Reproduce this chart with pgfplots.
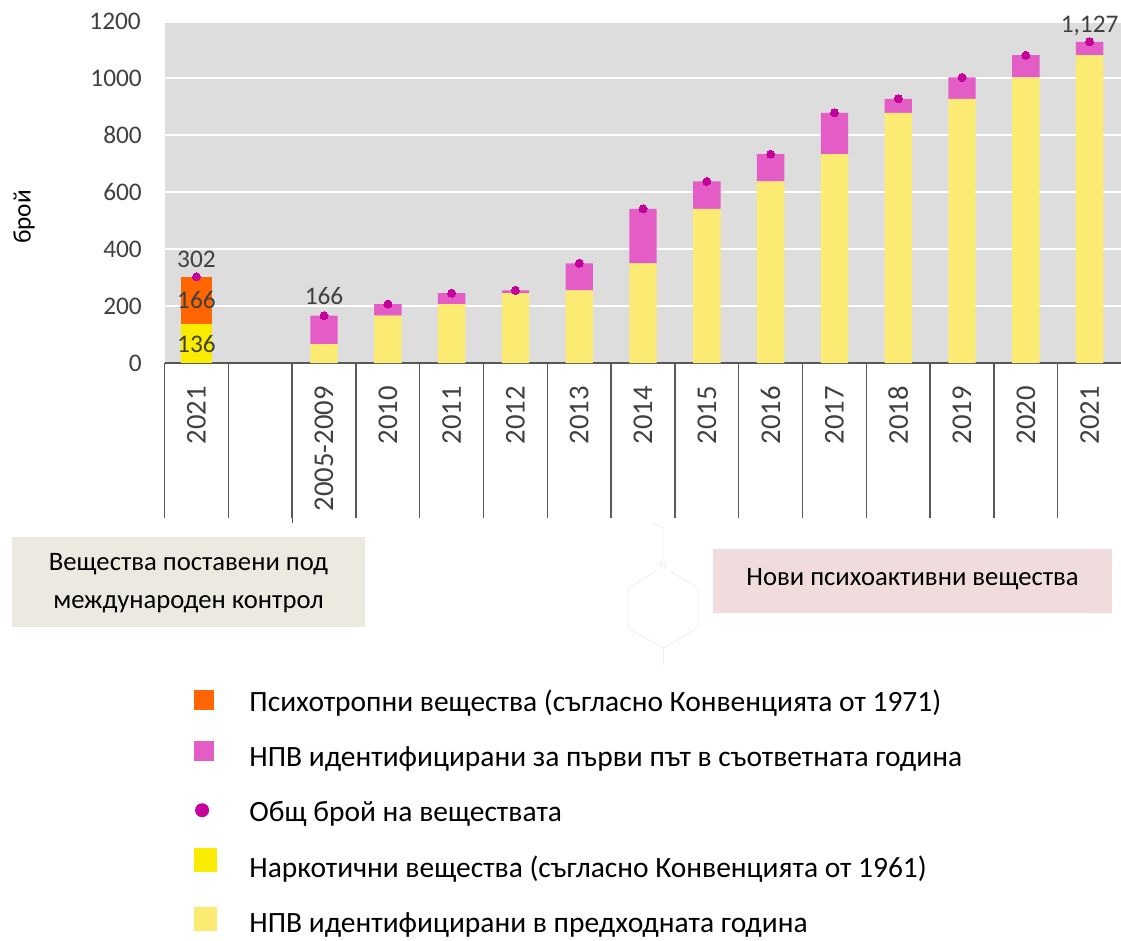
\documentclass[border=0pt]{standalone}
\usepackage{fontspec}
\setmainfont{Carlito}
\usepackage{pgfplots}
\pgfplotsset{compat=1.18}
\usepackage{pgfplotstable}
\definecolor{bgc}{HTML}{DDDDDD}
\definecolor{narc}{HTML}{F9EC00}
\definecolor{psy}{HTML}{FF6600}
\definecolor{npvnew}{HTML}{E45DC7}
\definecolor{npvold}{HTML}{FBEB73}
\definecolor{dotc}{HTML}{C6009A}
\definecolor{tickc}{HTML}{404040}
\definecolor{boxa}{HTML}{ECEAE0}
\definecolor{boxb}{HTML}{F0DCDC}
\definecolor{mol}{HTML}{EFEFEF}
\pgfplotstableread{
x narc psy old new total
0 136 166 0 0 302
2 0 0 66 100 166
3 0 0 166 41 207
4 0 0 207 38 245
5 0 0 245 10 255
6 0 0 255 95 350
7 0 0 350 191 541
8 0 0 541 96 637
9 0 0 637 96 733
10 0 0 733 145 878
11 0 0 878 49 927
12 0 0 927 75 1002
13 0 0 1002 78 1080
14 0 0 1080 47 1127
}\datatable
\newcommand{\legbox}{\path[draw=none,fill=none] (-7.5pt,-7.5pt) rectangle (7.5pt,7.5pt);}
\begin{document}
\begin{tikzpicture}
\path[use as bounding box] (0,0) rectangle (840.75pt,-705.75pt);
\begin{axis}[
  at={(123.4pt,-272.25pt)}, anchor=south west,
  scale only axis, width=717.75pt, height=255pt,
  xmin=-0.5, xmax=14.5, ymin=0, ymax=1193,
  ybar stacked,
  clip=false,
  axis lines=left,
  axis line style={-},
  y axis line style={draw=none},
  x axis line style={draw=black!65, line width=0.9pt},
  axis background/.style={fill=bgc},
  ymajorgrids, grid style={white, line width=1pt},
  ytick={0,200,...,1000},
  xtick={0,2,3,4,5,6,7,8,9,10,11,12,13,14},
  xticklabels={2021,2005-2009,2010,2011,2012,2013,2014,2015,2016,2017,2018,2019,2020,2021},
  minor xtick={-0.5,0.5,...,14.5},
  tick align=outside,
  major tick length=0pt,
  minor tick length=116pt,
  minor tick style={draw=black!65, line width=1pt},
  x tick style={draw=black!65, line width=1pt},
  /pgf/number format/assume math mode=true,
  /pgf/number format/1000 sep={},
  yticklabel style={font=\fontsize{19}{19}\selectfont, text=tickc, xshift=-13.5pt},
  xticklabel style={rotate=90, anchor=east, font=\fontsize{21.5}{21.5}\selectfont, text=tickc},
  xticklabel shift=14pt,
  legend cell align=left,
  legend style={draw=none, fill=none, at={(22pt,-242.75pt)}, anchor=north west,
    font=\fontsize{22.1}{22.1}\selectfont, row sep=20.8pt, inner sep=0pt},
  after end axis/.code={
    \node[font=\fontsize{19}{19}\selectfont, text=tickc, anchor=east, inner sep=0pt, xshift=-17.6pt] at (axis cs:-0.5,1200) {1200};
    \node[font=\fontsize{19}{19}\selectfont, text=tickc] at (axis cs:0,365) {302};
    \node[font=\fontsize{19}{19}\selectfont, text=tickc] at (axis cs:0,221) {166};
    \node[font=\fontsize{19}{19}\selectfont, text=tickc] at (axis cs:0,67) {136};
    \node[font=\fontsize{19}{19}\selectfont, text=tickc] at (axis cs:2,235) {166};
    \node[font=\fontsize{19}{19}\selectfont, text=tickc] at (axis cs:14,1182) {1,127};
  },
]
\addplot[fill=narc, draw=none, bar width=23pt, forget plot] table[x=x,y=narc] {\datatable};
\addplot[fill=psy, draw=none, bar width=23pt, forget plot] table[x=x,y=psy] {\datatable};
\addplot[fill=npvold, draw=none, bar width=20.5pt, forget plot] table[x=x,y=old] {\datatable};
\addplot[fill=npvnew, draw=none, bar width=20.5pt, forget plot] table[x=x,y=new] {\datatable};
\addplot[sharp plot, stack plots=false, only marks, color=dotc, mark=*, mark size=3pt, mark options={fill=dotc, draw=dotc, line width=0pt}, forget plot] table[x=x,y=total] {\datatable};
\addlegendimage{legend image code/.code={\legbox\fill[overlay,draw=none,fill=psy] (-7.5pt,-6.75pt) rectangle (7.5pt,8.25pt);}}
\addlegendentry{\hspace{24.5pt}Психотропни вещества (съгласно Конвенцията от 1971)}
\addlegendimage{legend image code/.code={\legbox\fill[overlay,draw=none,fill=npvnew] (-7.5pt,-3pt) rectangle (7.5pt,12pt);}}
\addlegendentry{\hspace{24.5pt}НПВ идентифицирани за първи път в съответната година}
\addlegendimage{legend image code/.code={\legbox\fill[overlay,draw=none,fill=dotc] (-1.5pt,1.5pt) circle (5.25pt);}}
\addlegendentry{\hspace{24.5pt}Общ брой на веществата}
\addlegendimage{legend image code/.code={\legbox\fill[overlay,draw=none,fill=narc] (-7.5pt,-3pt) rectangle (9.75pt,15pt);}}
\addlegendentry{\hspace{24.5pt}Наркотични вещества (съгласно Конвенцията от 1961)}
\addlegendimage{legend image code/.code={\legbox\fill[overlay,draw=none,fill=npvold] (-7.5pt,-5.25pt) rectangle (9.75pt,12.75pt);}}
\addlegendentry{\hspace{24.5pt}НПВ идентифицирани в предходната година}
\end{axis}
\begin{scope}[x=0.75pt,y=-0.75pt]
\draw[black!65, line width=1pt] (292.3,510) -- (292.3,523);
\node[rotate=90, font=\fontsize{19}{19}\selectfont] at (24,217) {брой};
\fill[boxa] (12,537) rectangle (365,627);
\node[align=center, font=\fontsize{20}{28.5}\selectfont] at (188.5,583) {Вещества поставени под\\международен контрол};
\fill[boxb] (713,549) rectangle (1112,613);
\node[font=\fontsize{20}{20}\selectfont] at (912.5,579) {Нови психоактивни вещества};
\draw[mol, line width=0.7pt] (653,523) -- (663,528) -- (663,560);
\draw[mol, line width=0.7pt] (670,571) -- (698,588) -- (698,628) -- (663,648) -- (628,628) -- (628,588) -- (656,571);
\draw[mol, line width=0.7pt] (663,648) -- (663,665);
\node[text=blue!8, font=\fontsize{9}{9}\selectfont] at (663,566) {N};
\end{scope}
\end{tikzpicture}
\end{document}
